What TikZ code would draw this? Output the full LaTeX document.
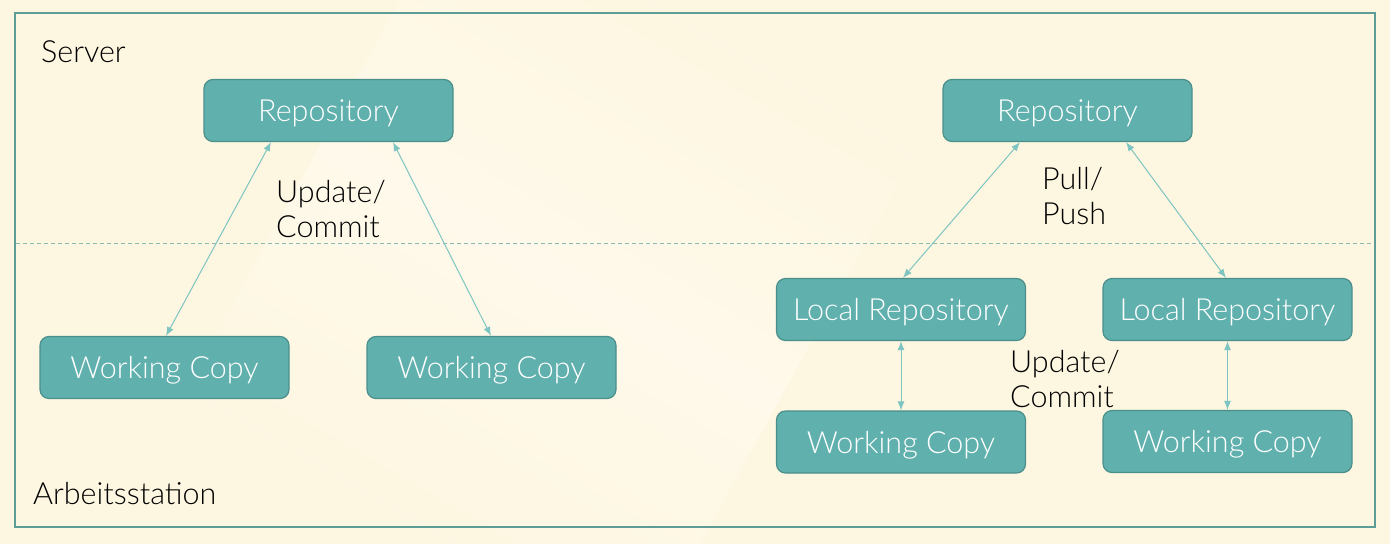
\documentclass[tikz,border=0pt]{standalone}
\usepackage{fontspec}
\setmainfont{Lato Light}
\usetikzlibrary{arrows.meta}
\definecolor{bg}{HTML}{FDF6E0}
\definecolor{bglight}{HTML}{FEF9EA}
\definecolor{boxfill}{HTML}{60B0AE}
\definecolor{boxdraw}{HTML}{4B8F8B}
\definecolor{arrcol}{HTML}{7EC5C2}
\definecolor{framecol}{HTML}{5E9C97}
\definecolor{dashcol}{HTML}{8CB9B4}
\tikzset{
  box/.style={draw=boxdraw, line width=1.2pt, fill=boxfill, rounded corners=9pt,
    minimum width=249pt, minimum height=62pt, inner sep=0pt, text=white,
    text height=26pt, text depth=4pt,
    font=\fontsize{30.5}{34}\selectfont},
  lbl/.style={text=black, align=left, inner sep=0pt, font=\fontsize{30.5}{35}\selectfont},
  arr/.style={draw=arrcol, line width=1pt, {Latex[length=9pt,width=7pt]}-{Latex[length=9pt,width=7pt]}}
}
\begin{document}
\begin{tikzpicture}[x=1pt,y=-1pt]
\useasboundingbox (0,0) rectangle (1390,544);
\fill[bg] (0,0) rectangle (1390,544);
\shade[left color=bg, right color=bg, middle color=bglight, shading angle=-30]
  (400,0) -- (1000,0) -- (700,544) -- (100,544) -- cycle;
\draw[framecol, line width=2pt] (15,13) rectangle (1375,527);
\draw[dashcol, line width=0.8pt, dash pattern=on 4pt off 3pt] (16,243) -- (1374,243);
% nodes
\node[box] (repoL) at (328.5,110.5) {Repository};
\node[box] (wc1) at (164.5,367.5) {Working Copy};
\node[box] (wc2) at (491.5,367.5) {Working Copy};
\node[box] (repoR) at (1067.5,110.5) {Repository};
\node[box] (lr1) at (901,309.5) {Local Repository};
\node[box] (lr2) at (1227.5,309.5) {Local Repository};
\node[box] (wc3) at (901,442) {Working Copy};
\node[box] (wc4) at (1227.5,441.5) {Working Copy};
% labels
\node[lbl, anchor=west] (srv) at (41,52) {Server};
\node[lbl, anchor=west] (arb) at (33,494) {Arbeitsstation};
\node[lbl, anchor=west] (uc1) at (276,209) {Update/\\Commit};
\node[lbl, anchor=west] (pp) at (1042,196) {Pull/\\Push};
\node[lbl, anchor=west] (uc2) at (1010,379) {Update/\\Commit};
% connectors
\draw[arr] ([xshift=-57.5pt]repoL.south) -- ([xshift=1.5pt]wc1.north);
\draw[arr] ([xshift=64.5pt]repoL.south) -- ([xshift=-0.5pt]wc2.north);
\draw[arr] ([xshift=-47.5pt]repoR.south) -- ([xshift=2pt]lr1.north);
\draw[arr] ([xshift=58.5pt]repoR.south) -- ([xshift=-1.5pt]lr2.north);
\draw[arr] (lr1.south) -- (wc3.north);
\draw[arr] (lr2.south) -- (wc4.north);
\end{tikzpicture}
\end{document}
